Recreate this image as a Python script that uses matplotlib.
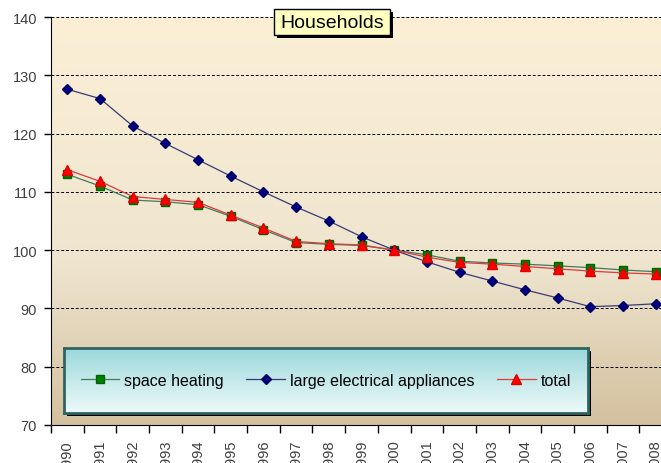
import numpy as np
import matplotlib
matplotlib.use("Agg")
import matplotlib.pyplot as plt
from matplotlib.colors import LinearSegmentedColormap
from matplotlib.patches import Rectangle

plt.rcParams["font.family"] = ["Liberation Sans", "DejaVu Sans"]

# Data (index, 2000 = 100)
years = [str(y) for y in range(1990, 2009)]
space_heating = [113.0, 111.0, 108.6, 108.3, 107.8, 105.8, 103.5, 101.3, 101.0, 100.8,
                 100.0, 99.2, 98.1, 97.8, 97.6, 97.3, 97.0, 96.6, 96.3]
appliances = [127.6, 126.0, 121.3, 118.3, 115.5, 112.7, 110.0, 107.4, 105.0, 102.3,
              100.0, 98.0, 96.2, 94.7, 93.2, 91.8, 90.3, 90.5, 90.8]
total = [113.8, 111.8, 109.2, 108.7, 108.2, 106.0, 103.8, 101.5, 101.1, 100.9,
         100.0, 98.8, 97.9, 97.6, 97.2, 96.8, 96.4, 96.1, 95.9]
yticks = [70, 80, 90, 100, 110, 120, 130, 140]

W, H = 661, 464
fig = plt.figure(figsize=(W / 100, H / 100), dpi=100)
fig.patch.set_facecolor("white")

def px(x0, y0, x1, y1):
    # pixel box (top-left origin) -> figure fraction rect
    return [x0 / W, 1 - y1 / H, (x1 - x0) / W, (y1 - y0) / H]

ax = fig.add_axes(px(51, 18, 672, 426))
ax.set_zorder(0)

# background gradient
bg = LinearSegmentedColormap.from_list("bg", [(0, "#D3C09E"), (0.4, "#EFE5CF"), (1, "#FCEFD6")])
grad = np.linspace(0, 1, 256).reshape(-1, 1)
ax.imshow(grad, cmap=bg, aspect="auto", extent=[0, 1, 0, 1], origin="lower",
          transform=ax.transAxes, zorder=0)

x = np.arange(len(years))
ax.plot(x, space_heating, color="#3E7E5E", lw=0.9, marker="s", ms=6,
        mfc="#008000", mec="#006400", zorder=3, label="space heating")
ax.plot(x, appliances, color="#3A3A78", lw=0.9, marker="D", ms=5,
        mfc="#000080", mec="#000060", zorder=3, label="large electrical appliances")
ax.plot(x, total, color="#E03A3A", lw=0.9, marker="^", ms=7.5,
        mfc="#FF0000", mec="#E00000", zorder=4, label="total")

ax.set_xlim(-0.5, len(years) - 0.5)
ax.set_ylim(70, 140)
ax.set_yticks(yticks)
ax.grid(axis="y", color="black", ls=(0, (3, 2)), lw=0.7, zorder=1)

ax.set_xticks(x)
ax.set_xticklabels(years, rotation=90, va="top", ha="center")
ax.set_xticks(np.arange(-0.5, len(years)), minor=True)
ax.tick_params(axis="x", which="major", length=0, pad=10, labelsize=10.5, labelcolor="#404040")
ax.tick_params(axis="x", which="minor", length=6, width=1, color="black", direction="out")
ax.tick_params(axis="y", length=5, width=1, pad=5, labelsize=10.5, labelcolor="#404040")
for s in ["top", "right"]:
    ax.spines[s].set_visible(False)
ax.spines["left"].set_color("black")
ax.spines["bottom"].set_color("black")

# title box with shadow
fig.patches.append(Rectangle((277 / W, 1 - 39 / H), 116 / W, 26 / H, transform=fig.transFigure,
                             fc="black", ec="none", zorder=5))
fig.patches.append(Rectangle((274 / W, 1 - 36 / H), 116 / W, 26 / H, transform=fig.transFigure,
                             fc="#FFFFC0", ec="black", lw=1, zorder=6))
fig.text(332 / W, 1 - 23 / H, "Households", ha="center", va="center", fontsize=14,
         color="black", zorder=7)

# legend box with shadow and gradient
fig.patches.append(Rectangle((67 / W, 1 - 417 / H), 524 / W, 65 / H, transform=fig.transFigure,
                             fc="black", ec="none", zorder=5))
lax = fig.add_axes(px(64, 349, 588, 414))
lax.set_zorder(6)
lg = LinearSegmentedColormap.from_list("lg", ["#EEFAFA", "#9CD8DB"])
lax.imshow(grad, cmap=lg, aspect="auto", extent=[0, 1, 0, 1], origin="lower")
lax.set_xlim(0, 1)
lax.set_ylim(0, 1)
lax.set_xticks([])
lax.set_yticks([])
for s in lax.spines.values():
    s.set_color("#2F6464")
    s.set_linewidth(2)
handles, labels = ax.get_legend_handles_labels()
lax.legend(handles, labels, loc="center", ncol=3, frameon=False, fontsize=11.5,
           handlelength=2.4, columnspacing=1.4, handletextpad=0.35,
           bbox_to_anchor=(0.5, 0.5))

fig.savefig("out.png", dpi=100)
